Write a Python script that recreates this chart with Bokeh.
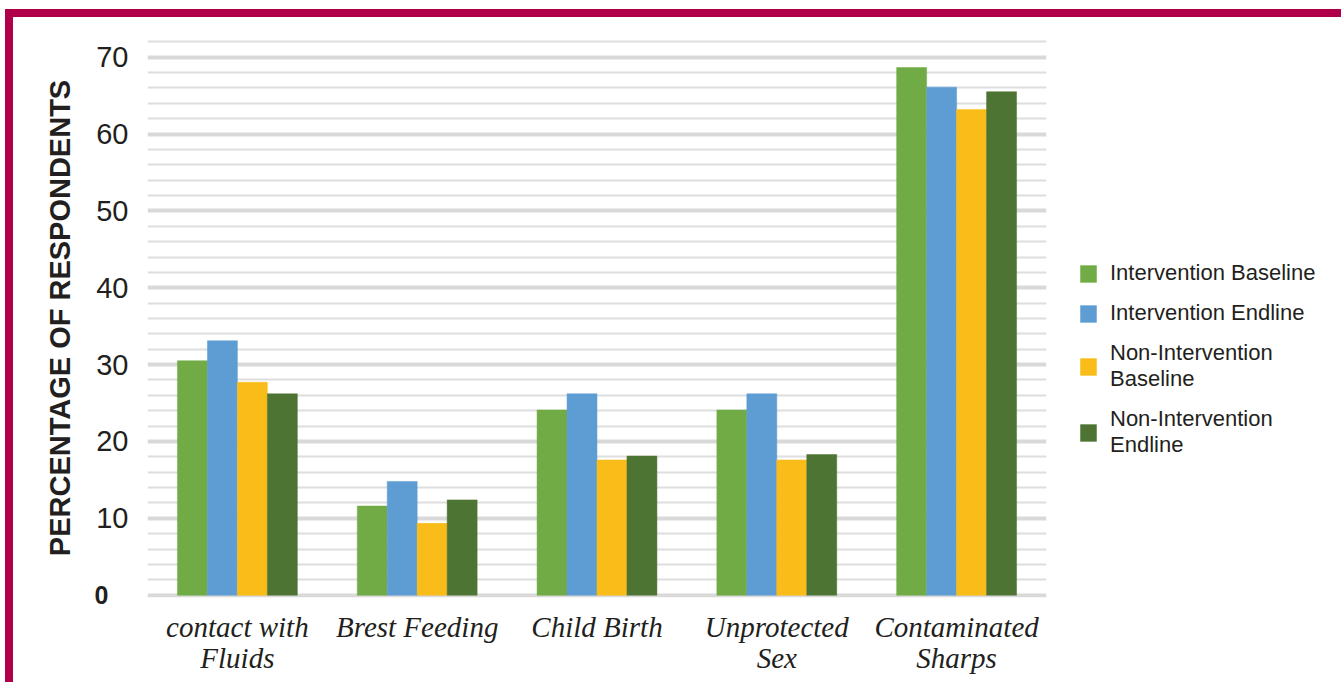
from bokeh.plotting import figure
from bokeh.models import (ColumnDataSource, FactorRange, Range1d, FixedTicker,
                          Legend, LegendItem, LinearAxis)
from bokeh.transform import dodge
from bokeh.embed import file_html
from bokeh.resources import INLINE

categories = ["contact with\nFluids", "Brest Feeding", "Child Birth",
              "Unprotected\nSex", "Contaminated\nSharps"]
intervention_baseline = [30.5, 11.6, 24.1, 24.1, 68.65]
intervention_endline = [33.1, 14.8, 26.2, 26.2, 66.1]
non_intervention_baseline = [27.7, 9.35, 17.6, 17.6, 63.2]
non_intervention_endline = [26.2, 12.4, 18.1, 18.3, 65.5]
series_labels = ["Intervention Baseline", "Intervention Endline",
                 "Non-Intervention\nBaseline", "Non-Intervention\nEndline"]
series_keys = ["ib", "ie", "nb", "ne"]
series_colors = ["#71AB45", "#5E9DD3", "#F9BC18", "#4E7434"]
y_label_ticks = [10, 20, 30, 40, 50, 60, 70]
y_zero_tick = [0]
y_grid_major = [0, 10, 20, 30, 40, 50, 60, 70]
y_grid_minor = [2, 4, 6, 8, 12, 14, 16, 18, 22, 24, 26, 28, 32, 34, 36, 38,
                42, 44, 46, 48, 52, 54, 56, 58, 62, 64, 66, 68, 72]

src = ColumnDataSource(dict(cat=categories, ib=intervention_baseline,
                            ie=intervention_endline,
                            nb=non_intervention_baseline,
                            ne=non_intervention_endline))

p = figure(frame_width=899, frame_height=559, output_backend="svg",
           toolbar_location=None, title=None,
           x_range=FactorRange(*categories, range_padding=0),
           y_range=Range1d(-0.3, 72.43),
           min_border_left=134, min_border_right=286,
           min_border_top=21, min_border_bottom=85,
           styles={"border": "8px solid #B0004A", "border-bottom": "0px",
                   "margin-left": "5px", "margin-top": "9px"})
p.background_fill_color = "white"
p.border_fill_color = "white"
p.outline_line_color = None

offsets = [-0.25, -0.0833, 0.0833, 0.25]
items = []
for key, lab, col, off in zip(series_keys, series_labels, series_colors, offsets):
    r = p.vbar(x=dodge("cat", off, range=p.x_range), top=key, bottom=0,
               width=1 / 6, source=src, fill_color=col, line_color=col,
               line_width=0.5)
    items.append(LegendItem(label=lab, renderers=[r]))

# grids
p.xgrid.grid_line_color = None
p.ygrid.ticker = FixedTicker(ticks=y_grid_major, minor_ticks=y_grid_minor)
p.ygrid.grid_line_color = "#d9d9d9"
p.ygrid.grid_line_width = 4
p.ygrid.minor_grid_line_color = "#dedede"
p.ygrid.minor_grid_line_width = 2
p.ygrid.level = "underlay"

# y axis (10..70)
yax = p.yaxis[0]
yax.ticker = FixedTicker(ticks=y_label_ticks, minor_ticks=[])
yax.axis_line_color = None
yax.major_tick_line_color = None
yax.minor_tick_line_color = None
yax.major_tick_out = 0
yax.minor_tick_out = 0
yax.major_label_text_font = "Liberation Sans"
yax.major_label_text_font_size = "29px"
yax.major_label_text_color = "#231f20"
yax.major_label_standoff = 19

# second y axis carrying the bold zero and the title
zax = LinearAxis(ticker=FixedTicker(ticks=y_zero_tick, minor_ticks=[]),
                 axis_line_color=None, major_tick_line_color=None,
                 minor_tick_line_color=None, major_tick_out=0, minor_tick_out=0,
                 major_label_text_font="Liberation Sans",
                 major_label_text_font_style="bold",
                 major_label_text_font_size="25px",
                 major_label_text_color="#231f20",
                 major_label_standoff=-15,
                 axis_label="PERCENTAGE OF RESPONDENTS",
                 axis_label_text_font="Liberation Sans",
                 axis_label_text_font_style="bold",
                 axis_label_text_font_size="29px",
                 axis_label_text_color="#231f20",
                 axis_label_standoff=16)
p.add_layout(zax, "left")

# x axis
xax = p.xaxis[0]
xax.axis_line_color = None
xax.major_tick_line_color = None
xax.minor_tick_line_color = None
xax.major_tick_out = 0
xax.major_label_text_font = "Liberation Serif"
xax.major_label_text_font_style = "italic"
xax.major_label_text_font_size = "29px"
xax.major_label_text_line_height = 0.975
xax.major_label_text_color = "#231f20"
xax.major_label_standoff = 13
xax.major_label_orientation = "horizontal"

legend = Legend(items=items, location=(32, 139), border_line_color=None,
                background_fill_alpha=0, label_text_font="Liberation Sans",
                label_text_font_size="22px", label_text_color="#231f20",
                label_text_line_height=1.3,
                glyph_width=20, glyph_height=21, label_standoff=12,
                spacing=14, padding=10, margin=0)
p.add_layout(legend, "right")

open("out.html", "w").write(file_html(p, INLINE))
